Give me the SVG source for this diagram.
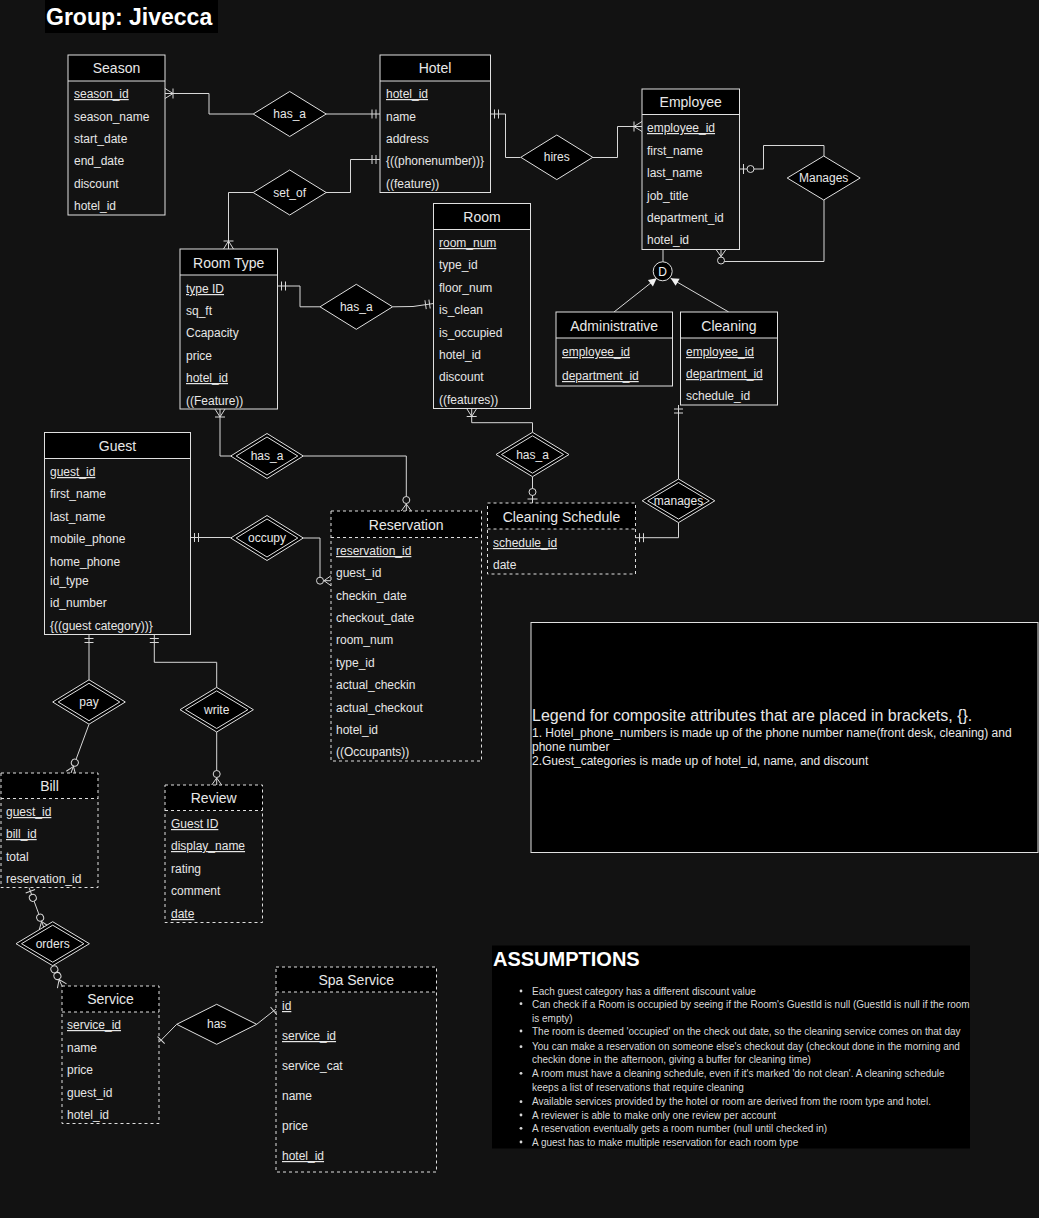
<svg xmlns="http://www.w3.org/2000/svg" width="1039" height="1218" viewBox="0 0 1039 1218">
  <style>
    text { font-family: "Liberation Sans", Arial, sans-serif; font-weight: 400; }
    .box { fill: none; stroke: #e0e0e0; stroke-width: 1; }
    .dash { stroke-dasharray: 3 3; }
    .hdr { fill: #000; }
    .sep { stroke: #e0e0e0; stroke-width: 1; }
    .title { font-size: 14px; fill: #e8e8e8; text-anchor: middle; }
    .attr { font-size: 12px; fill: #e6e6e6; }
    .u { text-decoration: underline; }
    .rel polygon { fill: #000; stroke: #e0e0e0; stroke-width: 1; }
    .rel text { font-size: 12px; fill: #e8e8e8; text-anchor: middle; }
    .conn path { fill: none; stroke: #d8d8d8; stroke-width: 1; }
    .mk { fill: none; stroke: #d8d8d8; stroke-width: 1; }
    .mkc { fill: #121212; stroke: #d8d8d8; stroke-width: 1; }
    .note { font-size: 10px; fill: #d8d8d8; }
  </style>
  <defs>
    <!-- ER cardinality markers: entity edge sits at x=0, line arrives from -x -->
    <marker id="mandOne" markerUnits="userSpaceOnUse" viewBox="-20 -10 24 20" refX="0" refY="0" markerWidth="24" markerHeight="20" orient="auto-start-reverse" overflow="visible">
      <path class="mk" d="M-4,-4.5V4.5M-8,-4.5V4.5"/>
    </marker>
    <marker id="oneMany" markerUnits="userSpaceOnUse" viewBox="-20 -10 24 20" refX="0" refY="0" markerWidth="24" markerHeight="20" orient="auto-start-reverse" overflow="visible">
      <path class="mk" d="M0,-5L-8,0L0,5M-8,-5V5"/>
    </marker>
    <marker id="zeroMany" markerUnits="userSpaceOnUse" viewBox="-20 -10 24 20" refX="0" refY="0" markerWidth="24" markerHeight="20" orient="auto-start-reverse" overflow="visible">
      <path class="mk" d="M0,-5L-7,0L0,5"/>
      <circle class="mkc" cx="-11" cy="0" r="3.5"/>
    </marker>
    <marker id="zeroOne" markerUnits="userSpaceOnUse" viewBox="-20 -10 24 20" refX="0" refY="0" markerWidth="24" markerHeight="20" orient="auto-start-reverse" overflow="visible">
      <path class="mk" d="M-4,-5V5"/>
      <circle class="mkc" cx="-11" cy="0" r="3.5"/>
    </marker>
    <marker id="one" markerUnits="userSpaceOnUse" viewBox="-20 -10 24 20" refX="0" refY="0" markerWidth="24" markerHeight="20" orient="auto-start-reverse" overflow="visible">
      <path class="mk" d="M-3,-5V5"/>
    </marker>
    <marker id="ring" markerUnits="userSpaceOnUse" viewBox="-20 -10 24 20" refX="0" refY="0" markerWidth="24" markerHeight="20" orient="auto-start-reverse" overflow="visible">
      <circle class="mkc" cx="-4" cy="0" r="3.5"/>
    </marker>
    <marker id="arrow" markerUnits="userSpaceOnUse" viewBox="-10 -6 12 12" refX="0" refY="0" markerWidth="12" markerHeight="12" orient="auto" overflow="visible">
      <path d="M0,0L-8,-4L-8,4Z" fill="#f0f0f0"/>
    </marker>
  </defs>

  <rect width="1039" height="1218" fill="#121212"/>

  <!-- heading -->
  <g id="heading">
    <rect x="45" y="0" width="173" height="33" fill="#000"/>
    <text x="46" y="25" font-size="23" style="font-weight:700" fill="#fff">Group: Jivecca</text>
  </g>

  <!-- connectors -->
  <g id="connectors" class="conn">
    <path d="M165,93.5H209V114H253" marker-start="url(#oneMany)"/>
    <path d="M326,114H380" marker-end="url(#mandOne)"/>
    <path d="M380,159.5H350.5V192.5H326" marker-start="url(#mandOne)"/>
    <path d="M253,192.5H228.5V249" marker-end="url(#oneMany)"/>
    <path d="M490.5,114H505.5V157.5H520.5" marker-start="url(#mandOne)"/>
    <path d="M593,157.5H617.5V126.5H642" marker-end="url(#oneMany)"/>
    <path d="M739.5,169H763.5V145.5H824V156" marker-start="url(#zeroOne)"/>
    <path d="M824,200V261.5H721V249.5" marker-end="url(#zeroMany)"/>
    <path d="M277.5,286H300V306.8H320" marker-start="url(#mandOne)"/>
    <path d="M392.7,306.8L413,306.5L433.5,303.5" marker-end="url(#mandOne)"/>
    <path d="M220,409V456H230.7" marker-start="url(#oneMany)"/>
    <path d="M303.3,456H406.3V511" marker-end="url(#zeroMany)"/>
    <path d="M471.7,408.5V422.7H532.5V432.3" marker-start="url(#oneMany)"/>
    <path d="M532.5,476.7V503" marker-end="url(#zeroOne)"/>
    <path d="M678.5,405V479" marker-start="url(#mandOne)"/>
    <path d="M678.5,522.7V537.7H635.5" marker-end="url(#mandOne)"/>
    <path d="M190.5,537.5H230.7" marker-start="url(#mandOne)"/>
    <path d="M303.3,538H320V580.7H331" marker-end="url(#zeroMany)"/>
    <path d="M89,634.5V680" marker-start="url(#mandOne)"/>
    <path d="M89,724.3L71,773" marker-end="url(#zeroMany)"/>
    <path d="M154.3,634.5V662.3H216.7V687.3" marker-start="url(#mandOne)"/>
    <path d="M216.7,732V785" marker-end="url(#zeroMany)"/>
    <path d="M29,887.5L44,928" marker-start="url(#zeroOne)" marker-end="url(#zeroMany)"/>
    <path d="M52.7,965.7L62,986" marker-start="url(#ring)" marker-end="url(#zeroMany)"/>
    <path d="M176.7,1024.3L159,1042.3" marker-end="url(#one)"/>
    <path d="M256.7,1024.3L276,1009" marker-end="url(#one)"/>
    <path d="M663,249.5V262"/>
    <path d="M614,312L656.7,278.3" marker-end="url(#arrow)"/>
    <path d="M728.7,312L670.7,278.3" marker-end="url(#arrow)"/>
  </g>

  <!-- disjoint specialisation circle -->
  <g id="disjoint">
    <circle cx="662.7" cy="271.3" r="9.5" fill="#000" stroke="#e0e0e0"/>
    <text x="662.7" y="275.5" font-size="12" fill="#f0f0f0" text-anchor="middle">D</text>
  </g>

  <!-- entities -->
  <g id="season">
    <rect class="hdr" x="68" y="55" width="97" height="26"/>
    <rect class="box" x="68" y="55" width="97" height="160"/>
    <line class="sep" x1="68" y1="81" x2="165" y2="81"/>
    <text class="title" x="116.5" y="73">Season</text>
    <text class="attr u" x="74" y="98">season_id</text>
    <text class="attr" x="74" y="121">season_name</text>
    <text class="attr" x="74" y="143">start_date</text>
    <text class="attr" x="74" y="165">end_date</text>
    <text class="attr" x="74" y="188">discount</text>
    <text class="attr" x="74" y="210">hotel_id</text>
  </g>

  <g id="hotel">
    <rect class="hdr" x="380" y="55" width="110.5" height="26"/>
    <rect class="box" x="380" y="55" width="110.5" height="137.5"/>
    <line class="sep" x1="380" y1="81" x2="490.5" y2="81"/>
    <text class="title" x="435" y="73">Hotel</text>
    <text class="attr u" x="386" y="98">hotel_id</text>
    <text class="attr" x="386" y="121">name</text>
    <text class="attr" x="386" y="143">address</text>
    <text class="attr" x="386" y="165">{((phonenumber))}</text>
    <text class="attr" x="386" y="188">((feature))</text>
  </g>

  <g id="employee">
    <rect class="hdr" x="642" y="89" width="97.5" height="25.5"/>
    <rect class="box" x="642" y="89" width="97.5" height="160.5"/>
    <line class="sep" x1="642" y1="114.5" x2="739.5" y2="114.5"/>
    <text class="title" x="690.7" y="107">Employee</text>
    <text class="attr u" x="647" y="132">employee_id</text>
    <text class="attr" x="647" y="155">first_name</text>
    <text class="attr" x="647" y="177">last_name</text>
    <text class="attr" x="647" y="200">job_title</text>
    <text class="attr" x="647" y="222">department_id</text>
    <text class="attr" x="647" y="244">hotel_id</text>
  </g>

  <g id="room">
    <rect class="hdr" x="433.5" y="203.5" width="97" height="26"/>
    <rect class="box" x="433.5" y="203.5" width="97" height="205"/>
    <line class="sep" x1="433.5" y1="229.5" x2="530.5" y2="229.5"/>
    <text class="title" x="482" y="222">Room</text>
    <text class="attr u" x="439" y="247">room_num</text>
    <text class="attr" x="439" y="269">type_id</text>
    <text class="attr" x="439" y="292">floor_num</text>
    <text class="attr" x="439" y="314">is_clean</text>
    <text class="attr" x="439" y="337">is_occupied</text>
    <text class="attr" x="439" y="359">hotel_id</text>
    <text class="attr" x="439" y="381">discount</text>
    <text class="attr" x="439" y="404">((features))</text>
  </g>

  <g id="room-type">
    <rect class="hdr" x="180" y="249" width="97.5" height="26"/>
    <rect class="box" x="180" y="249" width="97.5" height="160"/>
    <line class="sep" x1="180" y1="275" x2="277.5" y2="275"/>
    <text class="title" x="228.7" y="268">Room Type</text>
    <text class="attr u" x="186" y="293">type ID</text>
    <text class="attr" x="186" y="315">sq_ft</text>
    <text class="attr" x="186" y="337">Ccapacity</text>
    <text class="attr" x="186" y="360">price</text>
    <text class="attr u" x="186" y="382">hotel_id</text>
    <text class="attr" x="186" y="405">((Feature))</text>
  </g>

  <g id="administrative">
    <rect class="hdr" x="556" y="312" width="116.5" height="26"/>
    <rect class="box" x="556" y="312" width="116.5" height="74"/>
    <line class="sep" x1="556" y1="338" x2="672.5" y2="338"/>
    <text class="title" x="614.2" y="331">Administrative</text>
    <text class="attr u" x="562" y="356">employee_id</text>
    <text class="attr u" x="562" y="380">department_id</text>
  </g>

  <g id="cleaning">
    <rect class="hdr" x="680.5" y="312" width="97" height="26"/>
    <rect class="box" x="680.5" y="312" width="97" height="93"/>
    <line class="sep" x1="680.5" y1="338" x2="777.5" y2="338"/>
    <text class="title" x="729" y="331">Cleaning</text>
    <text class="attr u" x="686" y="356">employee_id</text>
    <text class="attr u" x="686" y="378">department_id</text>
    <text class="attr" x="686" y="400">schedule_id</text>
  </g>

  <g id="guest">
    <rect class="hdr" x="44.5" y="432.5" width="146" height="26"/>
    <rect class="box" x="44.5" y="432.5" width="146" height="202"/>
    <line class="sep" x1="44.5" y1="458.5" x2="190.5" y2="458.5"/>
    <text class="title" x="117.5" y="451">Guest</text>
    <text class="attr u" x="50" y="476">guest_id</text>
    <text class="attr" x="50" y="498">first_name</text>
    <text class="attr" x="50" y="521">last_name</text>
    <text class="attr" x="50" y="543">mobile_phone</text>
    <text class="attr" x="50" y="566">home_phone</text>
    <text class="attr" x="50" y="585">id_type</text>
    <text class="attr" x="50" y="607">id_number</text>
    <text class="attr" x="50" y="630">{((guest category))}</text>
  </g>

  <g id="reservation">
    <rect class="hdr" x="331" y="511" width="150.5" height="26.5"/>
    <rect class="box dash" x="331" y="511" width="150.5" height="250"/>
    <line class="sep dash" x1="331" y1="537.5" x2="481.5" y2="537.5"/>
    <text class="title" x="406.2" y="530">Reservation</text>
    <text class="attr u" x="336" y="555">reservation_id</text>
    <text class="attr" x="336" y="577">guest_id</text>
    <text class="attr" x="336" y="600">checkin_date</text>
    <text class="attr" x="336" y="622">checkout_date</text>
    <text class="attr" x="336" y="644">room_num</text>
    <text class="attr" x="336" y="667">type_id</text>
    <text class="attr" x="336" y="689">actual_checkin</text>
    <text class="attr" x="336" y="712">actual_checkout</text>
    <text class="attr" x="336" y="734">hotel_id</text>
    <text class="attr" x="336" y="756">((Occupants))</text>
  </g>

  <g id="cleaning-schedule">
    <rect class="hdr" x="487.5" y="503" width="148" height="26"/>
    <rect class="box dash" x="487.5" y="503" width="148" height="71"/>
    <line class="sep dash" x1="487.5" y1="529" x2="635.5" y2="529"/>
    <text class="title" x="561.5" y="522">Cleaning Schedule</text>
    <text class="attr u" x="493" y="547">schedule_id</text>
    <text class="attr" x="493" y="569">date</text>
  </g>

  <g id="bill">
    <rect class="hdr" x="1" y="773" width="97" height="25.5"/>
    <rect class="box dash" x="1" y="773" width="97" height="114.5"/>
    <line class="sep dash" x1="1" y1="798.5" x2="98" y2="798.5"/>
    <text class="title" x="49.5" y="791">Bill</text>
    <text class="attr u" x="6" y="816">guest_id</text>
    <text class="attr u" x="6" y="838">bill_id</text>
    <text class="attr" x="6" y="861">total</text>
    <text class="attr" x="6" y="883">reservation_id</text>
  </g>

  <g id="review">
    <rect class="hdr" x="165" y="785" width="97.5" height="25.5"/>
    <rect class="box dash" x="165" y="785" width="97.5" height="137.5"/>
    <line class="sep dash" x1="165" y1="810.5" x2="262.5" y2="810.5"/>
    <text class="title" x="213.7" y="803">Review</text>
    <text class="attr u" x="171" y="828">Guest ID</text>
    <text class="attr u" x="171" y="850">display_name</text>
    <text class="attr" x="171" y="873">rating</text>
    <text class="attr" x="171" y="895">comment</text>
    <text class="attr u" x="171" y="918">date</text>
  </g>

  <g id="service">
    <rect class="hdr" x="62" y="986" width="97" height="26"/>
    <rect class="box dash" x="62" y="986" width="97" height="137.5"/>
    <line class="sep dash" x1="62" y1="1012" x2="159" y2="1012"/>
    <text class="title" x="110.5" y="1004">Service</text>
    <text class="attr u" x="67" y="1029">service_id</text>
    <text class="attr" x="67" y="1052">name</text>
    <text class="attr" x="67" y="1074">price</text>
    <text class="attr" x="67" y="1097">guest_id</text>
    <text class="attr" x="67" y="1119">hotel_id</text>
  </g>

  <g id="spa-service">
    <rect class="hdr" x="276" y="967" width="160.5" height="25"/>
    <rect class="box dash" x="276" y="967" width="160.5" height="205"/>
    <line class="sep dash" x1="276" y1="992" x2="436.5" y2="992"/>
    <text class="title" x="356.2" y="985">Spa Service</text>
    <text class="attr u" x="282" y="1010">id</text>
    <text class="attr u" x="282" y="1040">service_id</text>
    <text class="attr" x="282" y="1070">service_cat</text>
    <text class="attr" x="282" y="1100">name</text>
    <text class="attr" x="282" y="1130">price</text>
    <text class="attr u" x="282" y="1160">hotel_id</text>
  </g>

  <!-- relationships -->
  <g id="rel-season-hotel" class="rel">
    <polygon points="253.2,114 289.7,91.5 326.2,114 289.7,136.5"/>
    <text x="289.7" y="118">has_a</text>
  </g>
  <g id="rel-set-of" class="rel">
    <polygon points="253.2,192.5 289.7,170 326.2,192.5 289.7,215"/>
    <text x="289.7" y="196.5">set_of</text>
  </g>
  <g id="rel-hires" class="rel">
    <polygon points="520.8,157.3 556.8,135 592.8,157.3 556.8,179.6"/>
    <text x="556.8" y="161.3">hires</text>
  </g>
  <g id="rel-manages-employee" class="rel">
    <polygon points="787.2,178 823.7,156 860.2,178 823.7,200"/>
    <text x="823.7" y="182">Manages</text>
  </g>
  <g id="rel-roomtype-room" class="rel">
    <polygon points="320,306.8 356.3,284.3 392.6,306.8 356.3,329.3"/>
    <text x="356.3" y="310.8">has_a</text>
  </g>
  <g id="rel-roomtype-reservation" class="rel">
    <polygon points="230.7,456 267,433.5 303.3,456 267,478.5"/>
    <polygon points="236.2,456 267,437 297.8,456 267,475"/>
    <text x="267" y="460">has_a</text>
  </g>
  <g id="rel-room-schedule" class="rel">
    <polygon points="496,454.5 532.5,432.3 569,454.5 532.5,476.7"/>
    <polygon points="501.5,454.5 532.5,435.8 563.5,454.5 532.5,473.2"/>
    <text x="532.5" y="458.5">has_a</text>
  </g>
  <g id="rel-manages-schedule" class="rel">
    <polygon points="642.2,500.8 678.5,479 714.8,500.8 678.5,522.6"/>
    <polygon points="647.7,500.8 678.5,482.5 709.3,500.8 678.5,519.1"/>
    <text x="678.5" y="504.8">manages</text>
  </g>
  <g id="rel-occupy" class="rel">
    <polygon points="230.7,538 267,515.5 303.3,538 267,560.5"/>
    <polygon points="236.2,538 267,519 297.8,538 267,557"/>
    <text x="267" y="542">occupy</text>
  </g>
  <g id="rel-pay" class="rel">
    <polygon points="52.7,702 89,679.8 125.3,702 89,724.2"/>
    <polygon points="58.2,702 89,683.3 119.8,702 89,720.7"/>
    <text x="89" y="706">pay</text>
  </g>
  <g id="rel-write" class="rel">
    <polygon points="180,709.7 216.7,687.4 253.4,709.7 216.7,732"/>
    <polygon points="185.5,709.7 216.7,690.9 247.9,709.7 216.7,728.5"/>
    <text x="216.7" y="713.7">write</text>
  </g>
  <g id="rel-orders" class="rel">
    <polygon points="16,943.7 52.7,921.7 89.4,943.7 52.7,965.7"/>
    <polygon points="21.5,943.7 52.7,925.2 83.9,943.7 52.7,962.2"/>
    <text x="52.7" y="947.7">orders</text>
  </g>
  <g id="rel-has-spa" class="rel">
    <polygon points="176.7,1024.3 216.7,1004.3 256.7,1024.3 216.7,1044.3"/>
    <text x="216.7" y="1028.3">has</text>
  </g>

  <!-- legend -->
  <g id="legend">
    <rect x="531" y="622.5" width="507" height="230" fill="#000" stroke="#e0e0e0"/>
    <text x="532" y="721" font-size="16" fill="#e8e8e8">Legend for composite attributes that are placed in brackets, {}.</text>
    <text x="532" y="737" font-size="12" fill="#e8e8e8">1. Hotel_phone_numbers is made up of the phone number name(front desk, cleaning) and</text>
    <text x="532" y="751" font-size="12" fill="#e8e8e8">phone number</text>
    <text x="532" y="765" font-size="12" fill="#e8e8e8">2.Guest_categories is made up of hotel_id, name, and discount</text>
  </g>

  <!-- assumptions -->
  <g id="assumptions">
    <rect x="492" y="945.5" width="478" height="203" fill="#000"/>
    <text x="493" y="966" font-size="20" style="font-weight:700" fill="#fff">ASSUMPTIONS</text>
    <g fill="#d8d8d8">
      <circle cx="521" cy="991" r="1.4"/>
      <circle cx="521" cy="1003.7" r="1.4"/>
      <circle cx="521" cy="1031" r="1.4"/>
      <circle cx="521" cy="1046.7" r="1.4"/>
      <circle cx="521" cy="1073.3" r="1.4"/>
      <circle cx="521" cy="1101.7" r="1.4"/>
      <circle cx="521" cy="1115" r="1.4"/>
      <circle cx="521" cy="1128.3" r="1.4"/>
      <circle cx="521" cy="1142" r="1.4"/>
    </g>
    <text class="note" x="532" y="994.5">Each guest category has a different discount value</text>
    <text class="note" x="532" y="1007.5">Can check if a Room is occupied by seeing if the Room's GuestId is null (GuestId is null if the room</text>
    <text class="note" x="532" y="1021.5">is empty)</text>
    <text class="note" x="532" y="1034.5">The room is deemed 'occupied' on the check out date, so the cleaning service comes on that day</text>
    <text class="note" x="532" y="1050">You can make a reservation on someone else's checkout day (checkout done in the morning and</text>
    <text class="note" x="532" y="1063">checkin done in the afternoon, giving a buffer for cleaning time)</text>
    <text class="note" x="532" y="1077">A room must have a cleaning schedule, even if it's marked 'do not clean'. A cleaning schedule</text>
    <text class="note" x="532" y="1090.5">keeps a list of reservations that require cleaning</text>
    <text class="note" x="532" y="1105">Available services provided by the hotel or room are derived from the room type and hotel.</text>
    <text class="note" x="532" y="1118.5">A reviewer is able to make only one review per account</text>
    <text class="note" x="532" y="1132">A reservation eventually gets a room number (null until checked in)</text>
    <text class="note" x="532" y="1145.5">A guest has to make multiple reservation for each room type</text>
  </g>
</svg>
